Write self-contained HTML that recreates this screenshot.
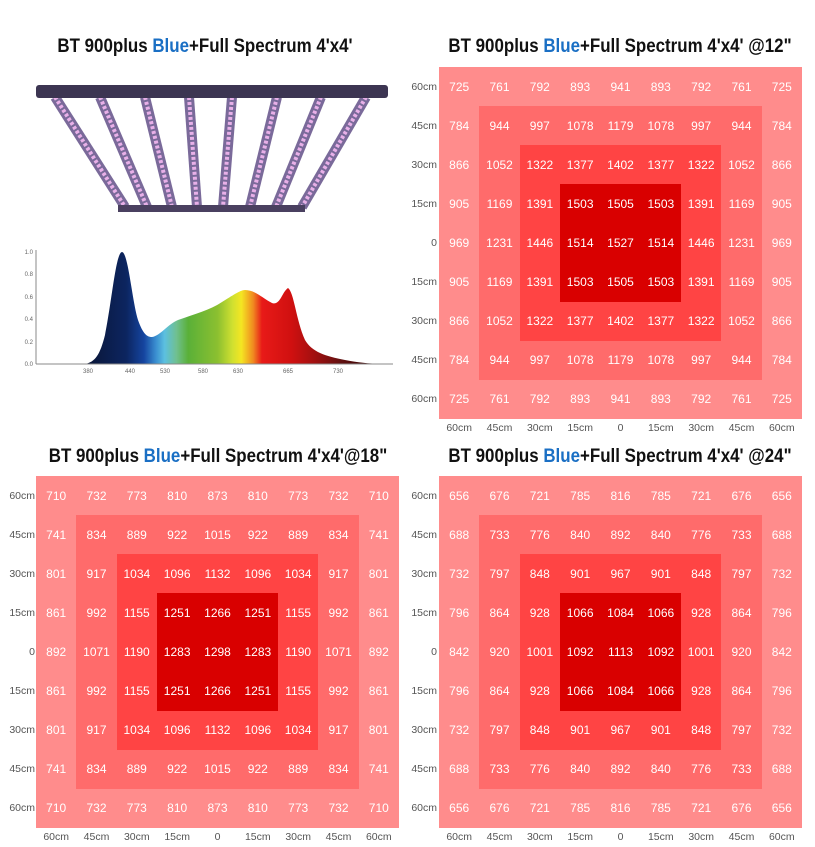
<!DOCTYPE html>
<html><head><meta charset="utf-8"><style>
body{margin:0;width:815px;height:847px;background:#fff;position:relative;overflow:hidden;font-family:"Liberation Sans",sans-serif}
.t{position:absolute;font-family:"Liberation Sans",sans-serif;font-weight:bold;font-size:19px;color:#111;white-space:nowrap;text-align:center;width:400px;transform:scaleX(0.89)}
.t b{color:#1a6fc4}
.g{position:absolute;width:363px;height:352px}
.g .l{position:absolute}
.l1{left:0;top:0;right:0;bottom:0;background:#ff8c8c}
.l2{left:40.3px;top:39.1px;right:40.3px;bottom:39.1px;background:#ff6b6b}
.l3{left:80.6px;top:78.2px;right:80.6px;bottom:78.2px;background:#ff4444}
.l4{left:121px;top:117.3px;right:121px;bottom:117.3px;background:#d90000}
.c{position:absolute;left:0;top:0;width:363px;height:352px;display:grid;grid-template-columns:repeat(9,1fr);grid-template-rows:repeat(9,1fr)}
.c span{display:flex;align-items:center;justify-content:center;color:#fff;font-size:12px}
.y{position:absolute;width:40px;height:352px;display:grid;grid-template-rows:repeat(9,1fr)}
.y span{display:flex;align-items:center;justify-content:flex-end;color:#555;font-size:10.5px}
.x{position:absolute;width:363px;display:grid;grid-template-columns:repeat(9,1fr)}
.x span{text-align:center;color:#555;font-size:10.5px}
</style></head><body>

<div class="t" style="left:5px;top:36px">BT 900plus <b>Blue</b>+Full Spectrum 4'x4'</div>
<div class="t" style="left:420px;top:36px">BT 900plus <b>Blue</b>+Full Spectrum 4'x4' @12"</div>
<div class="t" style="left:18px;top:446px">BT 900plus <b>Blue</b>+Full Spectrum 4'x4'@18"</div>
<div class="t" style="left:420px;top:446px">BT 900plus <b>Blue</b>+Full Spectrum 4'x4' @24"</div>

<!-- fixture -->
<svg style="position:absolute;left:0;top:60px" width="400" height="170">
<g stroke="#7a6a9a" stroke-width="10" stroke-linecap="butt">
<line x1="55" y1="37" x2="125" y2="147"/><line x1="100" y1="37" x2="147" y2="147"/><line x1="145" y1="37" x2="172" y2="147"/><line x1="189" y1="37" x2="197" y2="147"/><line x1="232" y1="37" x2="223" y2="147"/><line x1="277" y1="37" x2="250" y2="147"/><line x1="321" y1="37" x2="276" y2="147"/><line x1="366" y1="37" x2="302" y2="147"/>
</g>
<g stroke="#e8b0e8" stroke-width="4" stroke-dasharray="3 2">
<line x1="55" y1="37" x2="125" y2="147"/><line x1="100" y1="37" x2="147" y2="147"/><line x1="145" y1="37" x2="172" y2="147"/><line x1="189" y1="37" x2="197" y2="147"/><line x1="232" y1="37" x2="223" y2="147"/><line x1="277" y1="37" x2="250" y2="147"/><line x1="321" y1="37" x2="276" y2="147"/><line x1="366" y1="37" x2="302" y2="147"/>
</g>
<rect x="36" y="25" width="352" height="13" rx="3" fill="#3c3552"/>
<rect x="118" y="145" width="187" height="7" fill="#4a4060"/>
</svg>

<!-- spectrum -->
<svg style="position:absolute;left:0;top:240px" width="400" height="150">
<defs><linearGradient id="sp" gradientUnits="userSpaceOnUse" x1="85" x2="380" y1="0" y2="0">
<stop offset="0" stop-color="#0a1535"/><stop offset=".14" stop-color="#0c2560"/><stop offset=".2" stop-color="#1545a0"/><stop offset=".24" stop-color="#3a8ed0"/><stop offset=".27" stop-color="#5cc0e0"/><stop offset=".31" stop-color="#70c090"/><stop offset=".35" stop-color="#5ab038"/><stop offset=".45" stop-color="#8cc030"/><stop offset=".5" stop-color="#d0e030"/><stop offset=".53" stop-color="#f4e622"/><stop offset=".57" stop-color="#f08a20"/><stop offset=".6" stop-color="#e81a18"/><stop offset=".7" stop-color="#d01010"/><stop offset=".78" stop-color="#a01010"/><stop offset=".87" stop-color="#601010"/><stop offset="1" stop-color="#2a0000"/></linearGradient></defs>
<path d="M85 124 C95 122 100 115 105 95 C112 60 116 12 122 12 C128 12 132 60 138 80 C143 94 147 97 152 97 C160 96 168 84 178 80 C195 74 210 70 222 62 C232 56 240 50 245 50 C255 50 262 58 272 63 C280 66 282 52 288 48 C294 52 296 80 305 100 C312 112 325 116 345 120 C360 123 372 124 390 124 Z" fill="url(#sp)"/>
<line x1="36" y1="124" x2="393" y2="124" stroke="#888" stroke-width="1"/>
<line x1="36" y1="10" x2="36" y2="124" stroke="#888" stroke-width="1"/>
<g font-size="6" fill="#666" text-anchor="end"><text x="33" y="126">0.0</text><text x="33" y="104">0.2</text><text x="33" y="81">0.4</text><text x="33" y="59">0.6</text><text x="33" y="36">0.8</text><text x="33" y="14">1.0</text></g>
<g font-size="6" fill="#666" text-anchor="middle"><text x="88" y="133">380</text><text x="130" y="133">440</text><text x="165" y="133">530</text><text x="203" y="133">580</text><text x="238" y="133">630</text><text x="288" y="133">665</text><text x="338" y="133">730</text></g>
</svg>

<!-- 12" -->
<div class="y" style="left:397px;top:67px"><span>60cm</span><span>45cm</span><span>30cm</span><span>15cm</span><span>0</span><span>15cm</span><span>30cm</span><span>45cm</span><span>60cm</span></div>
<div class="g" style="left:439px;top:67px"><div class="l l1"></div><div class="l l2"></div><div class="l l3"></div><div class="l l4"></div>
<div class="c">
<span>725</span><span>761</span><span>792</span><span>893</span><span>941</span><span>893</span><span>792</span><span>761</span><span>725</span>
<span>784</span><span>944</span><span>997</span><span>1078</span><span>1179</span><span>1078</span><span>997</span><span>944</span><span>784</span>
<span>866</span><span>1052</span><span>1322</span><span>1377</span><span>1402</span><span>1377</span><span>1322</span><span>1052</span><span>866</span>
<span>905</span><span>1169</span><span>1391</span><span>1503</span><span>1505</span><span>1503</span><span>1391</span><span>1169</span><span>905</span>
<span>969</span><span>1231</span><span>1446</span><span>1514</span><span>1527</span><span>1514</span><span>1446</span><span>1231</span><span>969</span>
<span>905</span><span>1169</span><span>1391</span><span>1503</span><span>1505</span><span>1503</span><span>1391</span><span>1169</span><span>905</span>
<span>866</span><span>1052</span><span>1322</span><span>1377</span><span>1402</span><span>1377</span><span>1322</span><span>1052</span><span>866</span>
<span>784</span><span>944</span><span>997</span><span>1078</span><span>1179</span><span>1078</span><span>997</span><span>944</span><span>784</span>
<span>725</span><span>761</span><span>792</span><span>893</span><span>941</span><span>893</span><span>792</span><span>761</span><span>725</span>
</div></div>
<div class="x" style="left:439px;top:422px"><span>60cm</span><span>45cm</span><span>30cm</span><span>15cm</span><span>0</span><span>15cm</span><span>30cm</span><span>45cm</span><span>60cm</span></div>

<!-- 18" -->
<div class="y" style="left:-5px;top:476px"><span>60cm</span><span>45cm</span><span>30cm</span><span>15cm</span><span>0</span><span>15cm</span><span>30cm</span><span>45cm</span><span>60cm</span></div>
<div class="g" style="left:36px;top:476px"><div class="l l1"></div><div class="l l2"></div><div class="l l3"></div><div class="l l4"></div>
<div class="c">
<span>710</span><span>732</span><span>773</span><span>810</span><span>873</span><span>810</span><span>773</span><span>732</span><span>710</span>
<span>741</span><span>834</span><span>889</span><span>922</span><span>1015</span><span>922</span><span>889</span><span>834</span><span>741</span>
<span>801</span><span>917</span><span>1034</span><span>1096</span><span>1132</span><span>1096</span><span>1034</span><span>917</span><span>801</span>
<span>861</span><span>992</span><span>1155</span><span>1251</span><span>1266</span><span>1251</span><span>1155</span><span>992</span><span>861</span>
<span>892</span><span>1071</span><span>1190</span><span>1283</span><span>1298</span><span>1283</span><span>1190</span><span>1071</span><span>892</span>
<span>861</span><span>992</span><span>1155</span><span>1251</span><span>1266</span><span>1251</span><span>1155</span><span>992</span><span>861</span>
<span>801</span><span>917</span><span>1034</span><span>1096</span><span>1132</span><span>1096</span><span>1034</span><span>917</span><span>801</span>
<span>741</span><span>834</span><span>889</span><span>922</span><span>1015</span><span>922</span><span>889</span><span>834</span><span>741</span>
<span>710</span><span>732</span><span>773</span><span>810</span><span>873</span><span>810</span><span>773</span><span>732</span><span>710</span>
</div></div>
<div class="x" style="left:36px;top:831px"><span>60cm</span><span>45cm</span><span>30cm</span><span>15cm</span><span>0</span><span>15cm</span><span>30cm</span><span>45cm</span><span>60cm</span></div>

<!-- 24" -->
<div class="y" style="left:397px;top:476px"><span>60cm</span><span>45cm</span><span>30cm</span><span>15cm</span><span>0</span><span>15cm</span><span>30cm</span><span>45cm</span><span>60cm</span></div>
<div class="g" style="left:439px;top:476px"><div class="l l1"></div><div class="l l2"></div><div class="l l3"></div><div class="l l4"></div>
<div class="c">
<span>656</span><span>676</span><span>721</span><span>785</span><span>816</span><span>785</span><span>721</span><span>676</span><span>656</span>
<span>688</span><span>733</span><span>776</span><span>840</span><span>892</span><span>840</span><span>776</span><span>733</span><span>688</span>
<span>732</span><span>797</span><span>848</span><span>901</span><span>967</span><span>901</span><span>848</span><span>797</span><span>732</span>
<span>796</span><span>864</span><span>928</span><span>1066</span><span>1084</span><span>1066</span><span>928</span><span>864</span><span>796</span>
<span>842</span><span>920</span><span>1001</span><span>1092</span><span>1113</span><span>1092</span><span>1001</span><span>920</span><span>842</span>
<span>796</span><span>864</span><span>928</span><span>1066</span><span>1084</span><span>1066</span><span>928</span><span>864</span><span>796</span>
<span>732</span><span>797</span><span>848</span><span>901</span><span>967</span><span>901</span><span>848</span><span>797</span><span>732</span>
<span>688</span><span>733</span><span>776</span><span>840</span><span>892</span><span>840</span><span>776</span><span>733</span><span>688</span>
<span>656</span><span>676</span><span>721</span><span>785</span><span>816</span><span>785</span><span>721</span><span>676</span><span>656</span>
</div></div>
<div class="x" style="left:439px;top:831px"><span>60cm</span><span>45cm</span><span>30cm</span><span>15cm</span><span>0</span><span>15cm</span><span>30cm</span><span>45cm</span><span>60cm</span></div>

</body></html>
